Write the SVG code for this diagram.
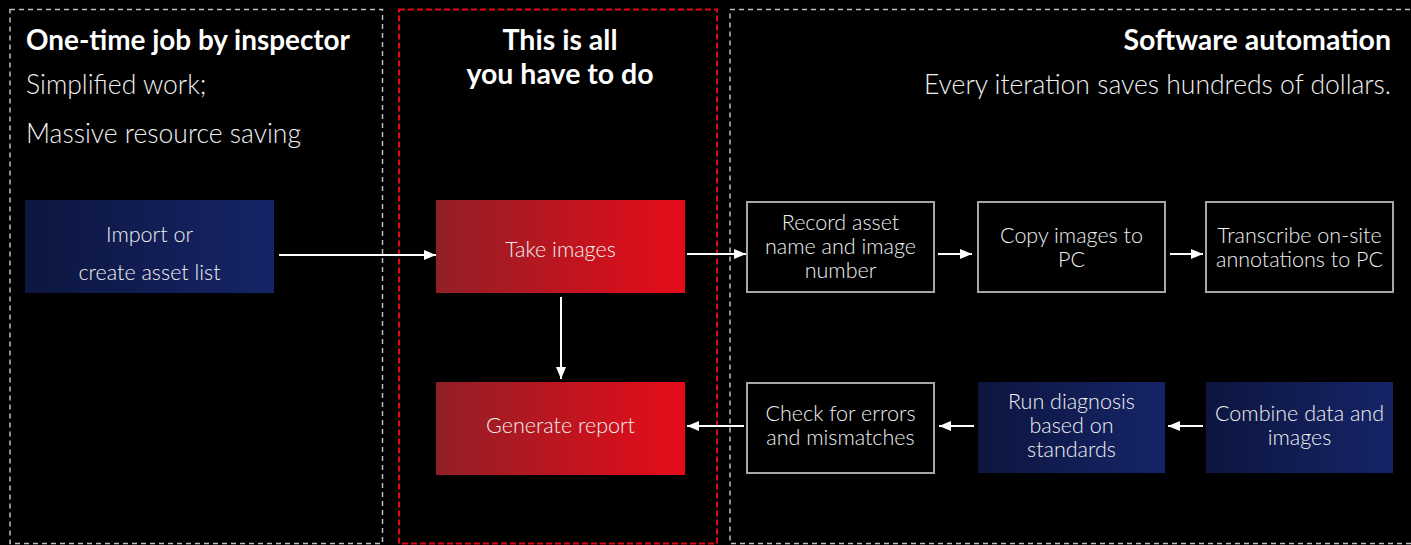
<svg xmlns="http://www.w3.org/2000/svg" width="1411" height="545" viewBox="0 0 1411 545">
<defs>
<linearGradient id="gBlue" x1="0" y1="0" x2="1" y2="0">
<stop offset="0" stop-color="#0c163f"/>
<stop offset="1" stop-color="#162467"/>
</linearGradient>
<linearGradient id="gRed" x1="0" y1="0" x2="1" y2="0">
<stop offset="0" stop-color="#921f26"/>
<stop offset="1" stop-color="#e60c19"/>
</linearGradient>
<marker id="ah" markerWidth="12" markerHeight="10" refX="12" refY="5" orient="auto" markerUnits="userSpaceOnUse">
<path d="M0,0 L12,5 L0,10 Z" fill="#ffffff"/>
</marker>
<style>
.bg{fill:#000}
.zone{fill:none;stroke:#bfbfbf;stroke-width:1.5;stroke-dasharray:5 4}
.zoneR{fill:none;stroke:#e30613;stroke-width:2;stroke-dasharray:6 3}
.h{font-family:Lato,"Liberation Sans",sans-serif;font-weight:700;font-size:28.5px;fill:#ffffff}
.s{font-family:Lato,"Liberation Sans",sans-serif;font-weight:300;font-size:26.5px;fill:#f0f0f0}
.t{font-family:Lato,"Liberation Sans",sans-serif;font-weight:300;font-size:21.5px;fill:#f0f0f0;text-anchor:middle}
.box{fill:none;stroke:#a6a6a6;stroke-width:2}
.c{stroke:#ffffff;stroke-width:2;fill:none;marker-end:url(#ah)}
</style>
</defs>
<rect class="bg" x="0" y="0" width="1411" height="545"/>
<rect class="zone" x="10" y="9.5" width="372.5" height="534"/>
<rect class="zoneR" x="399" y="9.5" width="318" height="534"/>
<rect class="zone" x="730" y="9.5" width="690" height="534"/>
<text class="h" x="26" y="50" textLength="324" lengthAdjust="spacingAndGlyphs">One-time job by inspector</text>
<text class="s" x="26" y="94">Simplified work;</text>
<text class="s" x="26" y="143">Massive resource saving</text>
<text class="h" x="560" y="50" text-anchor="middle">This is all</text>
<text class="h" x="560" y="84" text-anchor="middle">you have to do</text>
<text class="h" x="1391" y="50" text-anchor="end">Software automation</text>
<text class="s" x="1391" y="94" text-anchor="end">Every iteration saves hundreds of dollars.</text>
<g id="connectors">
<line class="c" x1="279" y1="255" x2="436" y2="255"/>
<line class="c" x1="687" y1="254" x2="746" y2="254"/>
<line class="c" x1="938" y1="254" x2="972" y2="254"/>
<line class="c" x1="1170" y1="254" x2="1203" y2="254"/>
<line class="c" x1="561" y1="297" x2="561" y2="379"/>
<line class="c" x1="744" y1="426" x2="687" y2="426"/>
<line class="c" x1="974" y1="426" x2="939" y2="426"/>
<line class="c" x1="1203" y1="426" x2="1168" y2="426"/>
</g>
<g id="import">
<rect x="25" y="200" width="249" height="93" fill="url(#gBlue)"/>
<text class="t" x="149.5" y="242">Import or</text>
<text class="t" x="149.5" y="280">create asset list</text>
</g>
<g id="take">
<rect x="436" y="200" width="249" height="93" fill="url(#gRed)"/>
<text class="t" x="560.5" y="257">Take images</text>
</g>
<g id="report">
<rect x="436" y="382" width="249" height="93" fill="url(#gRed)"/>
<text class="t" x="560.5" y="433">Generate report</text>
</g>
<g id="record">
<rect class="box" x="747" y="202" width="187" height="90"/>
<text class="t" x="840.5" y="230">Record asset</text>
<text class="t" x="840.5" y="254">name and image</text>
<text class="t" x="840.5" y="278">number</text>
</g>
<g id="copy">
<rect class="box" x="978" y="202" width="187" height="90"/>
<text class="t" x="1071.5" y="243">Copy images to</text>
<text class="t" x="1071.5" y="267">PC</text>
</g>
<g id="transcribe">
<rect class="box" x="1206" y="202" width="187" height="90"/>
<text class="t" x="1299.5" y="243">Transcribe on-site</text>
<text class="t" x="1299.5" y="267">annotations to PC</text>
</g>
<g id="check">
<rect class="box" x="747" y="383" width="187" height="90"/>
<text class="t" x="840.5" y="421">Check for errors</text>
<text class="t" x="840.5" y="445">and mismatches</text>
</g>
<g id="diagnosis">
<rect x="978" y="382" width="187" height="91" fill="url(#gBlue)"/>
<text class="t" x="1071.5" y="409">Run diagnosis</text>
<text class="t" x="1071.5" y="433">based on</text>
<text class="t" x="1071.5" y="457">standards</text>
</g>
<g id="combine">
<rect x="1206" y="382" width="187" height="91" fill="url(#gBlue)"/>
<text class="t" x="1299.5" y="421">Combine data and</text>
<text class="t" x="1299.5" y="445">images</text>
</g>
</svg>
